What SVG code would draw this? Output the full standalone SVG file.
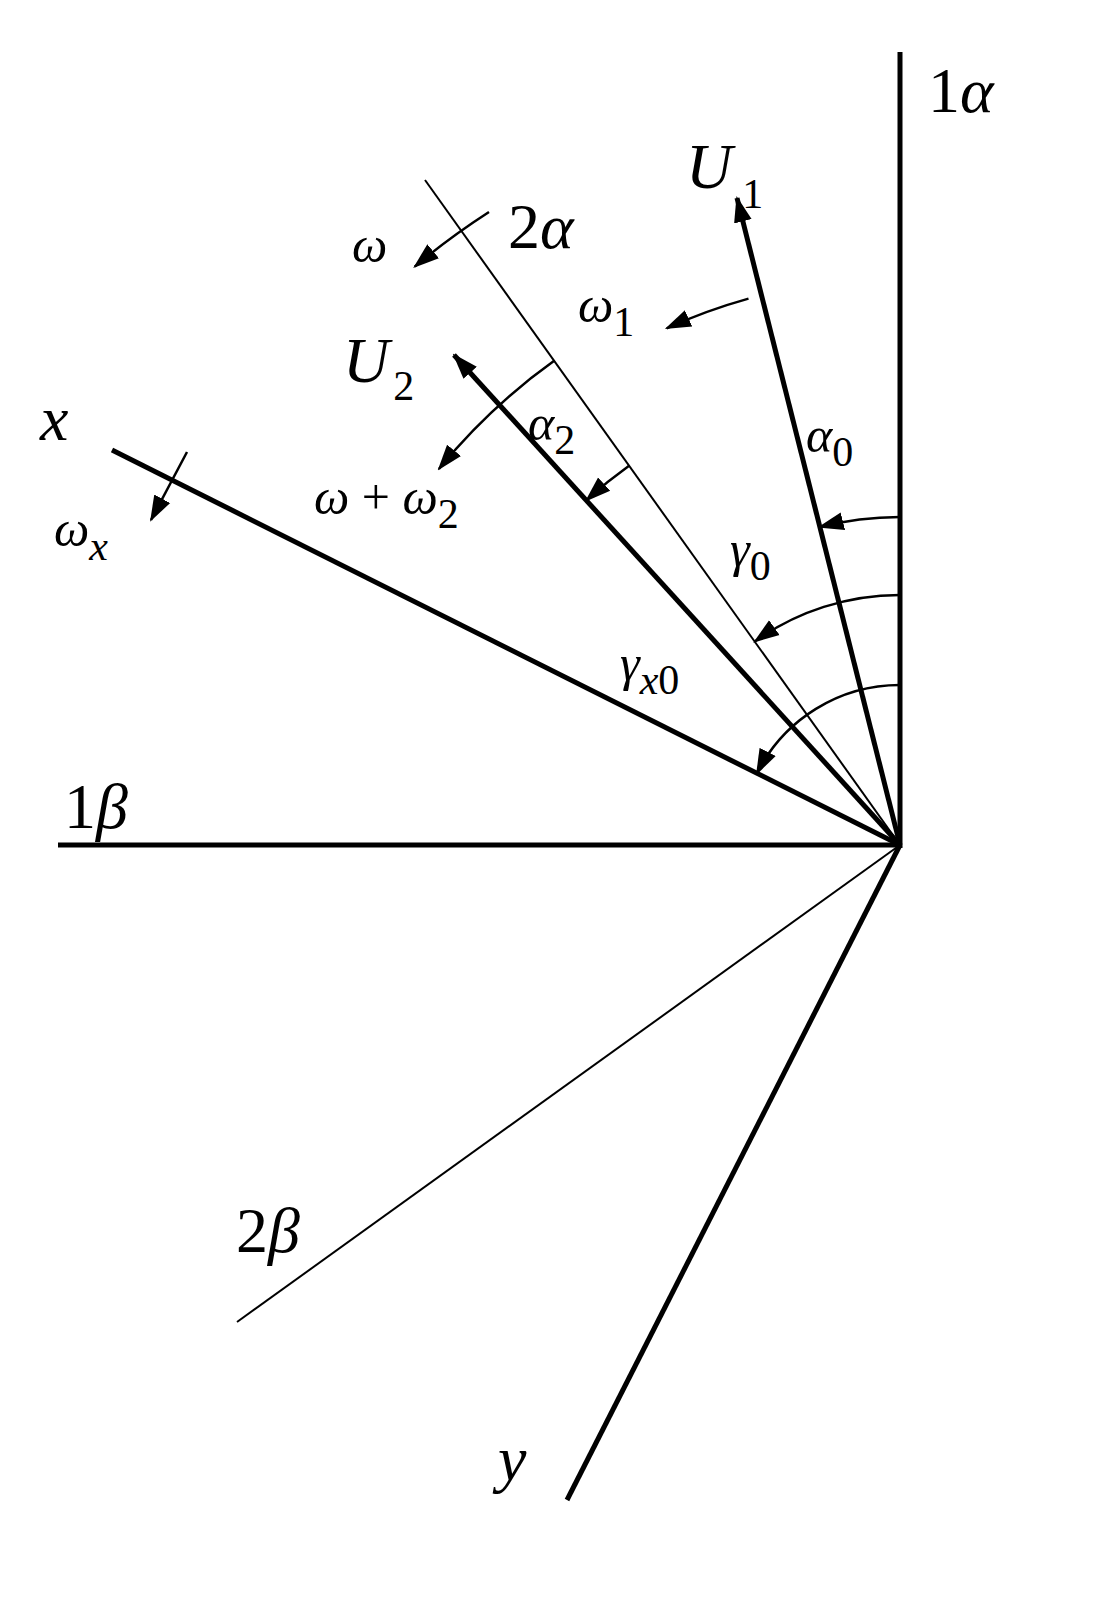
<svg xmlns="http://www.w3.org/2000/svg" width="1093" height="1623" viewBox="0 0 1093 1623">
<style>
.thick{stroke:#000;stroke-width:5;fill:none;stroke-linecap:butt}
.thin{stroke:#000;stroke-width:2;fill:none}
.arc{stroke:#000;stroke-width:2.5;fill:none}
text{font-family:"Liberation Serif",serif;font-size:64px;fill:#000}
.v{font-style:italic}
.m{font-size:50px}
.s{font-size:42px;font-style:normal}
.si{font-size:42px;font-style:italic}
</style>
<defs>
<marker id="ah" markerUnits="userSpaceOnUse" markerWidth="26" markerHeight="20" refX="24" refY="10" orient="auto">
<path d="M0,1 L26,10 L0,19 Z" fill="#000"/>
</marker>
</defs>
<rect width="1093" height="1623" fill="#fff"/>
<g id="connectors">
<line class="thick" x1="900" y1="848" x2="900" y2="52"/>
<line class="thick" x1="902" y1="845" x2="58" y2="845"/>
<line class="thick" x1="900" y1="845" x2="737" y2="198" marker-end="url(#ah)"/>
<line class="thin" x1="900" y1="845" x2="425" y2="180"/>
<line class="thick" x1="900" y1="845" x2="454" y2="355" marker-end="url(#ah)"/>
<line class="thick" x1="900" y1="845" x2="112" y2="450"/>
<line class="thin" x1="900" y1="845" x2="237" y2="1322"/>
<line class="thick" x1="900" y1="845" x2="567" y2="1500"/>
<path class="arc" d="M900,517 A328,328 0 0 0 819.6,527.1" marker-end="url(#ah)"/>
<path class="arc" d="M900,595 A250,250 0 0 0 754.8,641.5" marker-end="url(#ah)"/>
<path class="arc" d="M900,685 A160,160 0 0 0 756.9,773.4" marker-end="url(#ah)"/>
<path class="arc" d="M489,212 A755,755 0 0 0 414.7,266.6" marker-end="url(#ah)"/>
<path class="arc" d="M748.5,298.6 A567,567 0 0 0 666.7,328.3" marker-end="url(#ah)"/>
<path class="arc" d="M554.5,360.6 A595,595 0 0 0 438.9,469" marker-end="url(#ah)"/>
<path class="arc" d="M629.4,465.6 A466,466 0 0 0 586.4,500.3" marker-end="url(#ah)"/>
<line class="arc" x1="187" y1="452" x2="151" y2="520" marker-end="url(#ah)"/>
</g>
<g id="labels">
<text x="928" y="112">1<tspan class="v">α</tspan></text>
<text x="686" y="188" class="v">U<tspan class="s" dx="10" dy="20">1</tspan></text>
<text x="508" y="248">2<tspan class="v">α</tspan></text>
<text x="352" y="262" class="v m">ω</text>
<text x="578" y="322" class="v m">ω<tspan class="s" dy="14">1</tspan></text>
<text x="343" y="382" class="v">U<tspan class="s" dx="4" dy="18">2</tspan></text>
<text x="40" y="440" class="v">x</text>
<text x="528" y="440" class="v m">α<tspan class="s" dy="14">2</tspan></text>
<text x="806" y="452" class="v m">α<tspan class="s" dy="14">0</tspan></text>
<text x="314" y="514" class="m"><tspan class="v">ω</tspan> + <tspan class="v">ω</tspan><tspan class="s" dy="14">2</tspan></text>
<text x="54" y="546" class="v m">ω<tspan class="si" dy="14">x</tspan></text>
<text x="730" y="566" class="v m">γ<tspan class="s" dy="14">0</tspan></text>
<text x="620" y="680" class="v m">γ<tspan class="si" dy="14">x</tspan><tspan class="s">0</tspan></text>
<text x="64" y="828">1<tspan class="v">β</tspan></text>
<text x="236" y="1252">2<tspan class="v">β</tspan></text>
<text x="498" y="1480" class="v">y</text>
</g>
</svg>
